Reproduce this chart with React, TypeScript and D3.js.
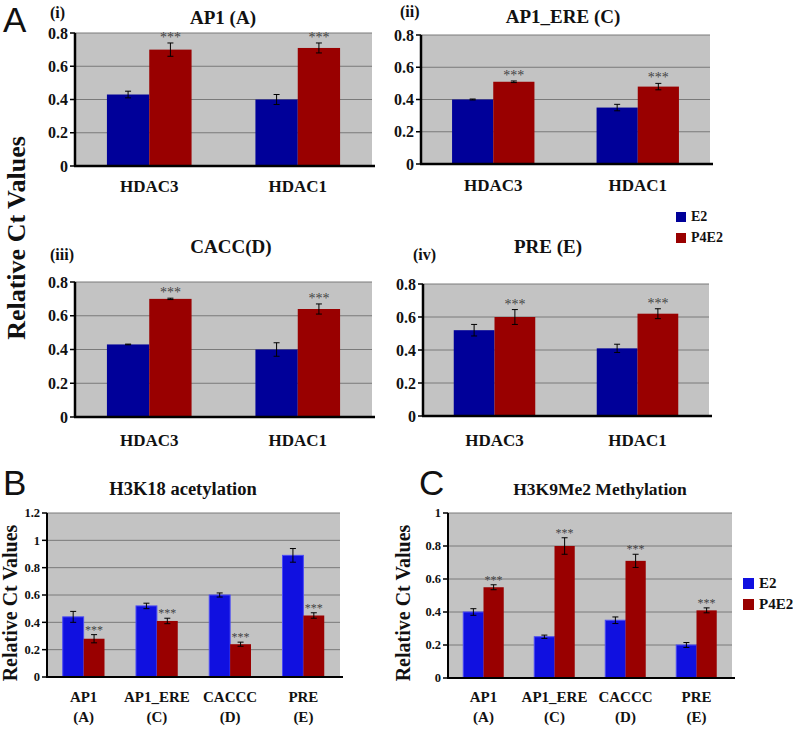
import React from "react";
import * as d3 from "d3";

// ---------- data ----------
const seriesNames = ["E2", "P4E2"];
const hdacCategories = [["HDAC3"], ["HDAC1"]];
const elementCategories = [["AP1", "(A)"], ["AP1_ERE", "(C)"], ["CACCC", "(D)"], ["PRE", "(E)"]];

const ticksA = [0, 0.2, 0.4, 0.6, 0.8];
const ticksB = [0, 0.2, 0.4, 0.6, 0.8, 1, 1.2];
const ticksC = [0, 0.2, 0.4, 0.6, 0.8, 1];

// (i) AP1 (A)
const ap1E2 = [0.43, 0.40];
const ap1E2Err = [0.02, 0.03];
const ap1P4E2 = [0.70, 0.71];
const ap1P4E2Err = [0.04, 0.03];
// (ii) AP1_ERE (C)
const ereE2 = [0.40, 0.35];
const ereE2Err = [0.003, 0.02];
const ereP4E2 = [0.51, 0.48];
const ereP4E2Err = [0.005, 0.02];
// (iii) CACC(D)
const caccE2 = [0.43, 0.40];
const caccE2Err = [0.002, 0.04];
const caccP4E2 = [0.70, 0.64];
const caccP4E2Err = [0.004, 0.03];
// (iv) PRE (E)
const preE2 = [0.52, 0.41];
const preE2Err = [0.035, 0.025];
const preP4E2 = [0.60, 0.62];
const preP4E2Err = [0.045, 0.03];
// B H3K18 acetylation
const acE2 = [0.44, 0.52, 0.60, 0.89];
const acE2Err = [0.04, 0.02, 0.015, 0.05];
const acP4E2 = [0.28, 0.41, 0.24, 0.45];
const acP4E2Err = [0.03, 0.02, 0.015, 0.02];
// C H3K9Me2 Methylation
const meE2 = [0.40, 0.25, 0.35, 0.20];
const meE2Err = [0.02, 0.01, 0.02, 0.015];
const meP4E2 = [0.55, 0.80, 0.71, 0.41];
const meP4E2Err = [0.015, 0.05, 0.04, 0.015];

const SERIF = "\"Liberation Serif\", \"Times New Roman\", Times, \"DejaVu Serif\", serif";
const SANS = "\"Liberation Sans\", Arial, sans-serif";

const serifStyle = (fs: number, bold = true): React.CSSProperties => ({
  fontFamily: SERIF, fontSize: fs + "px", fontWeight: bold ? 700 : 400,
});

type PanelProps = {
  cats: string[][];
  e2: number[]; e2Err: number[]; p4: number[]; p4Err: number[];
  ticks: number[];
  left: number; right: number; top: number; bottom: number;
  blue: string; red: string;
  tickFont: number; catFont: number; catY: number[];
  starFont: number; barFrac: number; axisW: number;
  blueStroke?: string;
};

function Panel(p: PanelProps) {
  const yMax = p.ticks[p.ticks.length - 1];
  const y = d3.scaleLinear().domain([0, yMax]).range([p.bottom, p.top]);
  const x = d3.scaleBand<number>().domain(p.cats.map((_, i) => i)).range([p.left, p.right]);
  const bw = x.bandwidth() * p.barFrac;
  const errBar = (cx: number, v: number, e: number, key: string) => {
    const yt = y(v + e), yb = y(v - e);
    return (
      <g key={key} stroke="#000" strokeWidth={1}>
        <line x1={cx} x2={cx} y1={yt} y2={yb} />
        <line x1={cx - 3} x2={cx + 3} y1={yt} y2={yt} />
        <line x1={cx - 3} x2={cx + 3} y1={yb} y2={yb} />
      </g>
    );
  };
  return (
    <g>
      <rect x={p.left} y={p.top} width={p.right - p.left} height={p.bottom - p.top} fill="#c3c3c3" />
      {p.ticks.filter(t => t > 0).map(t => (
        <line key={"g" + t} x1={p.left} x2={p.right} y1={y(t)} y2={y(t)} stroke="#7a7a7a" strokeWidth={1} />
      ))}
      {p.cats.map((c, i) => {
        const cx = (x(i) as number) + x.bandwidth() / 2;
        return (
          <g key={"c" + i}>
            <rect x={cx - bw} y={y(p.e2[i])} width={bw} height={y(0) - y(p.e2[i])} fill={p.blue}
              stroke={p.blueStroke || "none"} strokeWidth={p.blueStroke ? 1 : 0} />
            <rect x={cx} y={y(p.p4[i])} width={bw} height={y(0) - y(p.p4[i])} fill={p.red} />
            {errBar(cx - bw / 2, p.e2[i], p.e2Err[i], "e1")}
            {errBar(cx + bw / 2, p.p4[i], p.p4Err[i], "e2")}
            <text x={cx + bw / 2} y={y(p.p4[i] + p.p4Err[i]) - 1} textAnchor="middle"
              style={serifStyle(p.starFont, false)} fill="#444">***</text>
            {c.map((line, j) => (
              <text key={j} x={cx} y={p.catY[j]} textAnchor="middle" style={serifStyle(p.catFont)} fill="#111">{line}</text>
            ))}
          </g>
        );
      })}
      <line x1={p.left} x2={p.left} y1={p.top} y2={p.bottom} stroke="#000" strokeWidth={p.axisW} />
      <line x1={p.left - 1} x2={p.right + 3} y1={p.bottom} y2={p.bottom} stroke="#000" strokeWidth={p.axisW} />
      {p.ticks.map(t => (
        <g key={"t" + t}>
          <line x1={p.left - 5} x2={p.left} y1={y(t)} y2={y(t)} stroke="#000" strokeWidth={1.5} />
          <text x={p.left - 7} y={y(t)} dy="0.35em" textAnchor="end" style={serifStyle(p.tickFont)} fill="#111">{String(t)}</text>
        </g>
      ))}
    </g>
  );
}

function Legend({ x, y, gap, size, font, blue, red }: any) {
  const cols = [blue, red];
  return (
    <g>
      {seriesNames.map((n, i) => (
        <g key={n}>
          <rect x={x} y={y + i * gap - size + 1} width={size} height={size} fill={cols[i]} />
          <text x={x + size + 5} y={y + i * gap} style={serifStyle(font)} fill="#111">{n}</text>
        </g>
      ))}
    </g>
  );
}

export default function App() {
  const blueA = "#000099", redA = "#990000";
  const blueB = "#1010e0", redB = "#990000";
  const commonA = { blue: blueA, red: redA, tickFont: 16, catFont: 17, starFont: 14, barFrac: 0.285, axisW: 2.5 };
  const commonB = { blue: blueB, red: redB, tickFont: 12.5, catFont: 15, starFont: 12, barFrac: 0.285, axisW: 2, blueStroke: "#4a4af5" };
  const title = (txt: string, x: number, y: number, fs: number) => (
    <text x={x} y={y} textAnchor="middle" style={serifStyle(fs)} fill="#111">{txt}</text>
  );
  const roman = (txt: string, x: number, y: number) => (
    <text x={x} y={y} style={serifStyle(16)} fill="#111">{txt}</text>
  );
  const big = (txt: string, x: number, y: number) => (
    <text x={x} y={y} style={{ fontFamily: SANS, fontSize: "35px" }} fill="#111">{txt}</text>
  );
  const vlabel = (x: number, y: number, fs: number) => (
    <text transform={`translate(${x},${y}) rotate(-90)`} textAnchor="middle" style={serifStyle(fs)} fill="#111">Relative Ct Values</text>
  );
  return (
    <svg width={793} height={731} style={{ position: "absolute", left: 0, top: 0, background: "#fff" }}>
      <rect width={793} height={731} fill="#fff" />
      {big("A", 3, 32)}
      {big("B", 3, 495)}
      {big("C", 419, 495)}
      {vlabel(25, 238, 26)}
      {vlabel(17, 603, 20)}
      {vlabel(410, 603, 20)}

      {roman("(i)", 50, 18)}
      {title("AP1 (A)", 223, 24, 19)}
      <Panel {...commonA} cats={hdacCategories} e2={ap1E2} e2Err={ap1E2Err} p4={ap1P4E2} p4Err={ap1P4E2Err}
        ticks={ticksA} left={75} right={372} top={33} bottom={166} catY={[192]} />

      {roman("(ii)", 400, 17)}
      {title("AP1_ERE (C)", 563, 23, 19)}
      <Panel {...commonA} cats={hdacCategories} e2={ereE2} e2Err={ereE2Err} p4={ereP4E2} p4Err={ereP4E2Err}
        ticks={ticksA} left={421} right={710} top={35} bottom={164} catY={[191]} />

      <Legend x={676} y={221} gap={21} size={10} font={14} blue={blueA} red={redA} />

      {roman("(iii)", 50, 260)}
      {title("CACC(D)", 231, 253, 19)}
      <Panel {...commonA} cats={hdacCategories} e2={caccE2} e2Err={caccE2Err} p4={caccP4E2} p4Err={caccP4E2Err}
        ticks={ticksA} left={75} right={372} top={282} bottom={417} catY={[446]} />

      {roman("(iv)", 413, 260)}
      {title("PRE (E)", 548, 253, 19)}
      <Panel {...commonA} cats={hdacCategories} e2={preE2} e2Err={preE2Err} p4={preP4E2} p4Err={preP4E2Err}
        ticks={ticksA} left={423} right={709} top={284} bottom={416} catY={[446]} />

      {title("H3K18 acetylation", 183, 495, 18.5)}
      <Panel {...commonB} cats={elementCategories} e2={acE2} e2Err={acE2Err} p4={acP4E2} p4Err={acP4E2Err}
        ticks={ticksB} left={47} right={340} top={513} bottom={677} catY={[702, 722]} />

      {title("H3K9Me2 Methylation", 600, 495, 17.5)}
      <Panel {...commonB} cats={elementCategories} e2={meE2} e2Err={meE2Err} p4={meP4E2} p4Err={meP4E2Err}
        ticks={ticksC} left={448} right={732} top={513} bottom={678} catY={[702, 722]} />

      <Legend x={743} y={588} gap={21} size={11} font={15} blue={blueB} red={redB} />
    </svg>
  );
}
